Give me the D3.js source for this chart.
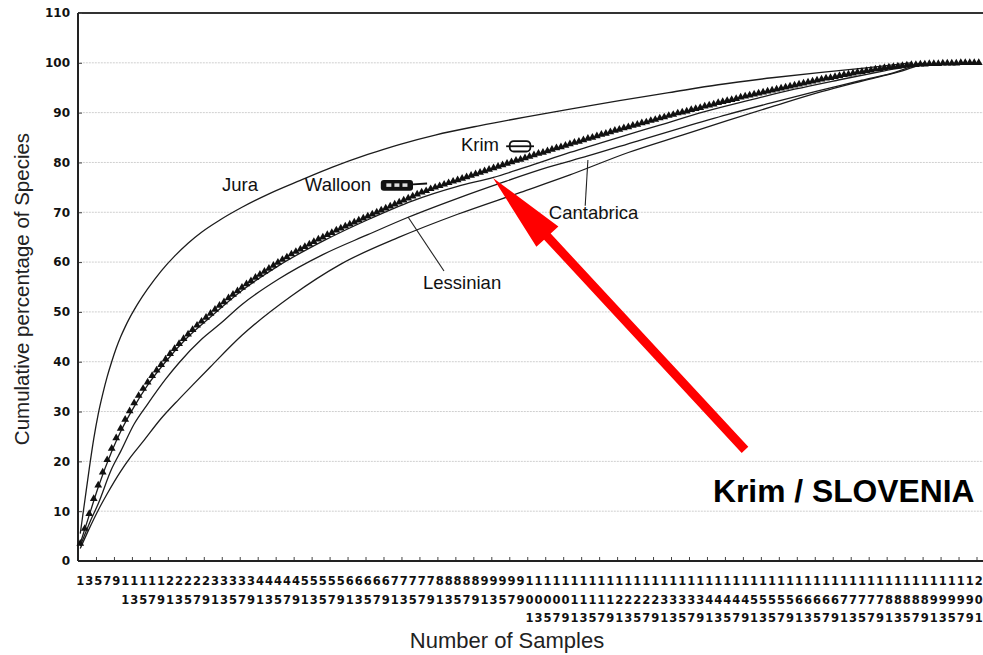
<!DOCTYPE html>
<html>
<head>
<meta charset="utf-8">
<script src="https://cdn.jsdelivr.net/npm/d3@7"></script>
<style>
  body { margin: 0; background: #fff; }
  svg { display: block; }
</style>
</head>
<body>
<svg id="chart" width="983" height="655"></svg>
<script>
// Series data (sample number -> cumulative % of species)
const juraSamples = [1,2,3,4,5,6,7,8,9,10,11,12,13,14,16,19,22,25,28,32,37,43,50,57,65,72,80,90,100,110,121,132,143,155,166,176,186];
const juraPct = [5.5,12,18.5,24.5,29.5,33.5,37,40,42.7,45,47,48.8,50.4,51.9,54.6,58.2,61.2,63.8,66,68.4,71,73.7,76.4,79,81.6,83.6,85.5,87.4,89.1,90.7,92.4,94,95.6,97,98.1,99,100];

// Walloon: one marker per sample, 1..201
const walloonPct = [
  3.5,6.5,9.5,12.5,15.2,17.8,20.3,22.6,24.7,26.6,
  28.4,30.1,31.7,33.2,34.6,35.9,37.2,38.3,39.4,40.5,
  41.6,42.6,43.6,44.6,45.5,46.4,47.3,48.1,48.9,49.7,
  50.5,51.3,52.0,52.8,53.5,54.2,54.9,55.6,56.2,56.9,
  57.5,58.1,58.7,59.3,59.9,60.5,61.0,61.6,62.1,62.6,
  63.1,63.6,64.1,64.6,65.0,65.5,65.9,66.4,66.8,67.2,
  67.6,68.0,68.4,68.8,69.2,69.6,70.0,70.4,70.8,71.2,
  71.6,72.0,72.4,72.8,73.2,73.6,74.0,74.3,74.7,75.0,
  75.3,75.6,75.9,76.2,76.5,76.8,77.1,77.4,77.7,78.0,
  78.3,78.6,78.9,79.2,79.5,79.8,80.1,80.4,80.6,80.9,
  81.2,81.5,81.8,82.0,82.3,82.6,82.9,83.1,83.4,83.7,
  84.0,84.2,84.5,84.8,85.0,85.3,85.6,85.8,86.1,86.4,
  86.6,86.9,87.1,87.4,87.6,87.9,88.1,88.4,88.6,88.9,
  89.1,89.4,89.6,89.9,90.1,90.3,90.6,90.8,91.0,91.3,
  91.5,91.7,92.0,92.2,92.4,92.6,92.8,93.1,93.3,93.5,
  93.7,93.9,94.1,94.3,94.5,94.7,94.9,95.1,95.3,95.5,
  95.7,95.9,96.1,96.3,96.5,96.7,96.9,97.0,97.2,97.4,
  97.6,97.7,97.9,98.1,98.2,98.4,98.5,98.7,98.8,99.0,
  99.1,99.2,99.3,99.4,99.5,99.6,99.6,99.7,99.7,99.8,
  99.8,99.8,99.9,99.9,99.9,99.9,100,100,100,100,100
];

const krimSamples = [1,3,5,8,10,13,16,20,25,30,37,45,55,65,75,85,93,100,110,120,130,140,150,160,170,180,186,189];
const krimPct = [3.5,9.2,14.8,22,26,31,35.3,40,45,49,54.3,59.2,64.2,68.5,72.3,75.2,77,79,82,84.8,87.5,90.2,92.5,94.7,96.6,98.4,99.4,100];

const cantabricaSamples = [1,3,5,8,10,13,16,20,23,28,32,37,45,55,65,74,85,95,105,114,125,135,145,155,165,175,183,188];
const cantabricaPct = [3,7.5,11.5,18.5,22,27.5,31.5,36.5,39.8,44.5,47.5,51.5,56.5,61.5,65.5,69,72.8,76,79,81.3,84.3,87,89.6,92,94.3,96.5,98.3,100];

const lessinianSamples = [1,3,5,7,10,12,15,19,23,26,30,37,48,59,72,85,99,110,123,135,145,155,166,177,185,189];
const lessinianPct = [2.5,6.5,10.2,13.5,18,20.6,24,28.6,32.5,35.3,39,45.3,53.2,59.6,65,69.6,74,77.5,82,85.5,88.4,91.2,94.2,96.8,98.7,100];

const yTicks = [0,10,20,30,40,50,60,70,80,90,100,110];
const sampleLabels = d3.range(1, 202, 2).map(String);   // odd sample numbers 1..201

const svg = d3.select('#chart');

const x = d3.scaleLinear().domain([0.5, 201.5]).range([78, 981]);
const y = d3.scaleLinear().domain([0, 110]).range([561, 13]);
const at = (s, v) => [x(s), y(v)];

const tickFont = "'DejaVu Sans', sans-serif";
const textFont = "'Liberation Sans', Arial, sans-serif";

// gridlines
svg.append('g')
  .selectAll('line')
  .data(yTicks.filter(v => v > 0 && v < 110))
  .join('line')
  .attr('x1', x(0.9)).attr('x2', 983)
  .attr('y1', d => y(d)).attr('y2', d => y(d))
  .attr('stroke', '#cfcfcf')
  .attr('stroke-width', 1)
  .attr('stroke-dasharray', '2,1');

// top border
svg.append('line')
  .attr('x1', x(0.5)).attr('x2', 983)
  .attr('y1', y(110)).attr('y2', y(110))
  .attr('stroke', '#333').attr('stroke-width', 2);

// y axis
const yAxis = svg.append('g')
  .attr('transform', `translate(${x(0.5)},0)`)
  .call(d3.axisLeft(y).tickValues(yTicks).tickSize(-4).tickPadding(8));
yAxis.select('.domain').remove();
yAxis.selectAll('.tick line').attr('stroke', '#444');
yAxis.selectAll('text')
  .attr('font-family', tickFont)
  .attr('font-weight', 'bold')
  .attr('font-size', 12)
  .attr('fill', '#111');

// x axis ticks (every 4 samples, between categories)
const xTickPos = d3.range(0.5, 202, 4);
const xAxis = svg.append('g')
  .attr('transform', `translate(0,${y(0)})`)
  .call(d3.axisBottom(x).tickValues(xTickPos).tickSize(-4).tickFormat(''));
xAxis.select('.domain').remove();
xAxis.selectAll('.tick line').attr('stroke', '#444');

// axis lines
svg.append('line')
  .attr('x1', x(0.5)).attr('x2', x(0.5))
  .attr('y1', y(110)).attr('y2', y(0))
  .attr('stroke', '#222').attr('stroke-width', 2);
svg.append('line')
  .attr('x1', x(0.5)).attr('x2', 983)
  .attr('y1', y(0)).attr('y2', y(0))
  .attr('stroke', '#222').attr('stroke-width', 2);

// x category labels, digits stacked vertically
const rowY = [585, 603.5, 622];
const lab = svg.append('g')
  .attr('font-family', tickFont)
  .attr('font-weight', 'bold')
  .attr('font-size', 11.5)
  .attr('fill', '#111')
  .attr('text-anchor', 'middle');
sampleLabels.forEach(l => {
  l.split('').forEach((ch, i) => {
    lab.append('text')
      .attr('x', x(+l))
      .attr('y', rowY[i])
      .text(ch);
  });
});

// curves
const smooth = d3.line().x(d => x(d[0])).y(d => y(d[1])).curve(d3.curveMonotoneX);

const zipPts = (s, v) => s.map((d, i) => [d, v[i]]);
const walloonPts = walloonPct.map((v, i) => [i + 1, v]);

const curves = svg.append('g').attr('fill', 'none');
[
  zipPts(lessinianSamples, lessinianPct),
  zipPts(cantabricaSamples, cantabricaPct),
  zipPts(krimSamples, krimPct),
  zipPts(juraSamples, juraPct)
].forEach(pts => {
  curves.append('path')
    .attr('d', smooth(pts))
    .attr('stroke', '#1c1c1c')
    .attr('stroke-width', 1.3);
});

// Walloon is drawn as markers only; they merge into a band once dense
svg.append('g')
  .selectAll('path')
  .data(walloonPts)
  .join('path')
  .attr('transform', d => `translate(${x(d[0])},${y(d[1])})`)
  .attr('d', d3.symbol(d3.symbolTriangle).size(26))
  .attr('fill', '#111');

// series labels
const labels = svg.append('g')
  .attr('font-family', textFont)
  .attr('font-size', 18.5)
  .attr('fill', '#111');

labels.append('text').attr('x', at(32.55, 74.3)[0]).attr('y', at(32.55, 74.3)[1]).text('Jura');
labels.append('text').attr('x', at(51.0, 74.3)[0]).attr('y', at(51.0, 74.3)[1]).text('Walloon');
labels.append('text').attr('x', at(85.75, 82.3)[0]).attr('y', at(85.75, 82.3)[1]).text('Krim');
labels.append('text').attr('x', at(77.3, 54.6)[0]).attr('y', at(77.3, 54.6)[1]).text('Lessinian');
labels.append('text').attr('x', at(105.3, 68.65)[0]).attr('y', at(105.3, 68.65)[1]).text('Cantabrica');

// Walloon legend key + connector
const wk = at(67.9, 76.5);
const wk2 = at(75.07, 74.3);
svg.append('rect')
  .attr('x', wk[0]).attr('y', wk[1])
  .attr('width', wk2[0] - wk[0]).attr('height', wk2[1] - wk[1])
  .attr('rx', 3)
  .attr('fill', '#111');
[0.25, 0.5, 0.75].forEach(f => {
  svg.append('rect')
    .attr('x', wk[0] + (wk2[0] - wk[0]) * f - 2.5)
    .attr('y', (wk[1] + wk2[1]) / 2 - 2)
    .attr('width', 5).attr('height', 3.5)
    .attr('fill', '#ddd');
});
svg.append('line')
  .attr('x1', x(75.07)).attr('x2', x(78.2))
  .attr('y1', y(75.6)).attr('y2', y(75.8))
  .attr('stroke', '#111').attr('stroke-width', 2);

// Krim legend key
const kk = at(96.6, 84.3);
const kk2 = at(101.2, 82.2);
svg.append('rect')
  .attr('x', kk[0]).attr('y', kk[1])
  .attr('width', kk2[0] - kk[0]).attr('height', kk2[1] - kk[1])
  .attr('rx', 4)
  .attr('fill', 'none')
  .attr('stroke', '#111').attr('stroke-width', 1.8);
svg.append('line')
  .attr('x1', x(95.8)).attr('x2', x(102.0))
  .attr('y1', y(83.25)).attr('y2', y(83.25))
  .attr('stroke', '#111').attr('stroke-width', 1.8);

// leader lines
svg.append('line')
  .attr('x1', x(73.96)).attr('y1', y(69.05))
  .attr('x2', x(81.97)).attr('y2', y(58.2))
  .attr('stroke', '#222').attr('stroke-width', 1.1);
svg.append('line')
  .attr('x1', x(114.0)).attr('y1', y(80.5))
  .attr('x2', x(113.4)).attr('y2', y(71.3))
  .attr('stroke', '#222').attr('stroke-width', 1.1);

// axis titles
svg.append('text')
  .attr('transform', `translate(29,${(y(0) + y(110)) / 2 + 2}) rotate(-90)`)
  .attr('text-anchor', 'middle')
  .attr('font-family', textFont)
  .attr('font-size', 20.5)
  .attr('fill', '#222')
  .text('Cumulative percentage of Species');

svg.append('text')
  .attr('x', 507).attr('y', 648)
  .attr('text-anchor', 'middle')
  .attr('font-family', textFont)
  .attr('font-size', 22)
  .attr('fill', '#222')
  .text('Number of Samples');

// red arrow annotation
const tail = at(148.97, 22.3);
const tip = at(92.88, 76.9);
const dx = tip[0] - tail[0], dy = tip[1] - tail[1];
const len = Math.hypot(dx, dy);
const ux = dx / len, uy = dy / len;
const nx = -uy, ny = ux;
const headL = 80, headW = 15, shaftW = 4.5;
const base = [tip[0] - ux * headL, tip[1] - uy * headL];
const arrowPts = [
  [tail[0] + nx * shaftW, tail[1] + ny * shaftW],
  [base[0] + nx * shaftW, base[1] + ny * shaftW],
  [base[0] + nx * headW, base[1] + ny * headW],
  tip,
  [base[0] - nx * headW, base[1] - ny * headW],
  [base[0] - nx * shaftW, base[1] - ny * shaftW],
  [tail[0] - nx * shaftW, tail[1] - ny * shaftW]
];
svg.append('path')
  .attr('d', 'M' + arrowPts.map(p => p.join(',')).join('L') + 'Z')
  .attr('fill', '#ff0000');

svg.append('text')
  .attr('x', x(141.85)).attr('y', y(11.84))
  .attr('font-family', textFont)
  .attr('font-weight', 'bold')
  .attr('font-size', 31.8)
  .attr('fill', '#000')
  .text('Krim / SLOVENIA');
</script>
</body>
</html>
